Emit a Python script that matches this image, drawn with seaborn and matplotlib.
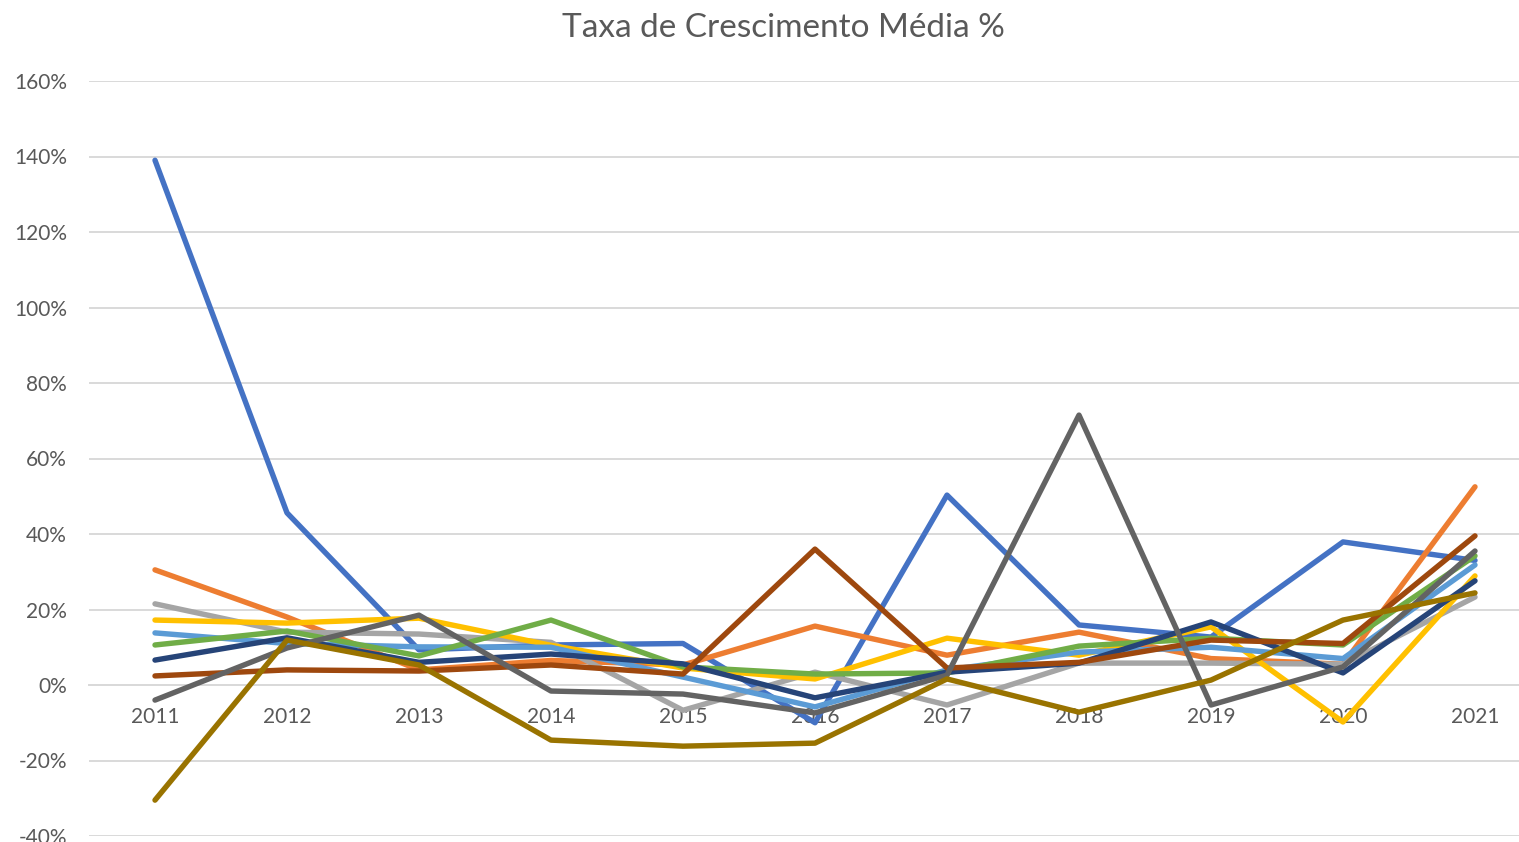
import matplotlib.pyplot as plt
import pandas as pd
import seaborn as sns
from matplotlib.ticker import FuncFormatter

ANOS = [2011, 2012, 2013, 2014, 2015, 2016, 2017, 2018, 2019, 2020, 2021]

# taxa de crescimento por série (%)
SERIE_1 = [139.0, 45.6, 9.3, 10.6, 11.0, -10.0, 50.3, 15.9, 12.7, 37.9, 33.0]
SERIE_2 = [30.5, 18.0, 4.0, 6.5, 5.3, 15.6, 7.9, 14.0, 7.0, 5.5, 52.5]
SERIE_3 = [21.5, 14.0, 13.5, 11.3, -6.7, 3.4, -5.3, 5.8, 5.8, 5.5, 23.3]
SERIE_4 = [17.2, 16.4, 17.7, 10.5, 4.5, 1.6, 12.4, 7.9, 15.4, -9.8, 28.9]
SERIE_5 = [13.8, 11.0, 10.1, 10.0, 2.1, -5.8, 4.0, 8.7, 10.0, 7.0, 31.8]
SERIE_6 = [10.6, 14.3, 7.7, 17.2, 4.8, 2.9, 3.2, 10.3, 12.4, 10.6, 34.2]
SERIE_7 = [6.6, 12.5, 6.0, 8.2, 5.6, -3.4, 3.4, 5.8, 16.7, 3.2, 27.6]
SERIE_8 = [2.4, 4.0, 3.7, 5.3, 2.9, 36.0, 4.5, 6.0, 11.9, 11.0, 39.5]
SERIE_9 = [-4.0, 9.8, 18.5, -1.6, -2.4, -7.4, 2.6, 71.5, -5.3, 4.8, 35.5]
SERIE_10 = [-30.5, 11.9, 5.3, -14.6, -16.2, -15.4, 1.6, -7.2, 1.3, 17.2, 24.4]

SERIES = [SERIE_1, SERIE_2, SERIE_3, SERIE_4, SERIE_5,
          SERIE_6, SERIE_7, SERIE_8, SERIE_9, SERIE_10]
NOMES = [f'Série {i + 1}' for i in range(len(SERIES))]
CORES = ['#4472C4', '#ED7D31', '#A5A5A5', '#FFC000', '#5B9BD5',
         '#70AD47', '#264478', '#9E480E', '#636363', '#997300']

TEXTO = '#595959'
GRADE = '#D9D9D9'


def tabela():
    rows = []
    for nome, valores in zip(NOMES, SERIES):
        for ano, v in zip(ANOS, valores):
            rows.append({'ano': ano, 'taxa': v / 100.0, 'serie': nome})
    return pd.DataFrame(rows)


def main():
    df = tabela()

    sns.set_theme(style='white')
    plt.rcParams['font.family'] = ['Lato', 'DejaVu Sans']

    fig = plt.figure(figsize=(15.19, 8.42), dpi=100)
    ax = fig.add_axes([89 / 1519, 6 / 842, 1 - 89 / 1519, 755 / 842])

    sns.lineplot(
        data=df, x='ano', y='taxa', hue='serie', hue_order=NOMES,
        palette=CORES, linewidth=3.9, legend=False, ax=ax,
        solid_capstyle='round', solid_joinstyle='round', zorder=3,
    )

    ax.set_xlim(2010.5, 2021.5 - 22 / 132)
    ax.set_ylim(-0.4, 1.6)
    ax.set_yticks([-0.4, -0.2, 0, 0.2, 0.4, 0.6, 0.8, 1.0, 1.2, 1.4, 1.6])
    ax.yaxis.set_major_formatter(FuncFormatter(lambda y, _: f'{y * 100:.0f}%'))
    ax.set_xticks(ANOS)
    ax.set_xticklabels([str(a) for a in ANOS])

    ax.grid(axis='y', color=GRADE, linewidth=1.4, zorder=0)
    ax.set_axisbelow(True)
    for lado in ['left', 'right', 'top']:
        ax.spines[lado].set_visible(False)
    # eixo das categorias cruza em 0
    ax.spines['bottom'].set_position(('data', 0))
    ax.spines['bottom'].set_color(GRADE)
    ax.spines['bottom'].set_linewidth(1.4)
    ax.spines['bottom'].set_zorder(1)

    ax.tick_params(axis='x', length=0, pad=16, labelsize=15, colors=TEXTO)
    ax.tick_params(axis='y', length=0, pad=16, labelsize=15, colors=TEXTO)
    ax.set_xlabel('')
    ax.set_ylabel('')

    fig.text(783 / 1519, 1 - 28 / 842, 'Taxa de Crescimento Média %',
             ha='center', va='center', fontsize=24, color=TEXTO)

    fig.savefig('out.png', dpi=100)


if __name__ == '__main__':
    main()
